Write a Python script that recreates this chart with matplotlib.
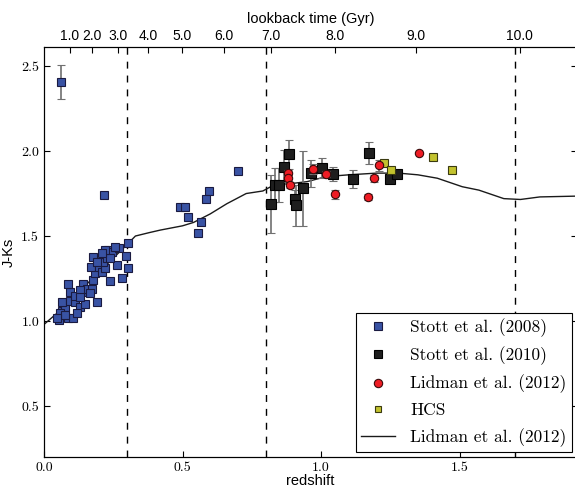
import numpy as np
import matplotlib
matplotlib.use("Agg")
import matplotlib.pyplot as plt
from matplotlib.lines import Line2D

# Stott et al. (2008) - blue squares
s08_z = [0.063, 0.054, 0.087, 0.105, 0.065, 0.076, 0.065, 0.094, 0.112, 0.13, 0.148,
         0.19, 0.094, 0.112, 0.137, 0.087, 0.141, 0.155, 0.173, 0.177, 0.184, 0.17,
         0.177, 0.199, 0.209, 0.22, 0.238, 0.28, 0.213, 0.227, 0.231, 0.245, 0.264,
         0.271, 0.238, 0.296, 0.303, 0.303, 0.256, 0.22, 0.209, 0.191, 0.13, 0.166,
         0.058, 0.076, 0.119, 0.047, 0.13, 0.217,
         0.49, 0.51, 0.52, 0.596, 0.585, 0.567, 0.556, 0.70]
s08_jk = [2.405, 1.006, 1.02, 1.02, 1.06, 1.08, 1.11, 1.12, 1.11, 1.08, 1.10,
          1.11, 1.17, 1.15, 1.17, 1.22, 1.22, 1.19, 1.19, 1.24, 1.28, 1.32,
          1.375, 1.32, 1.29, 1.31, 1.235, 1.255, 1.35, 1.37, 1.42, 1.405, 1.33,
          1.43, 1.37, 1.38, 1.31, 1.46, 1.435, 1.42, 1.40, 1.35, 1.18, 1.165,
          1.05, 1.035, 1.05, 1.02, 1.14, 1.74,
          1.67, 1.67, 1.61, 1.765, 1.72, 1.58, 1.52, 1.88]
s08_err = [0.1] + [0.0] * (len(s08_z) - 1)

# Stott et al. (2010) - black squares
s10_z = [0.82, 0.835, 0.85, 0.885, 0.866, 0.906, 0.91, 0.935, 0.964, 1.003, 1.043,
         1.115, 1.173, 1.25, 1.274]
s10_jk = [1.69, 1.80, 1.80, 1.98, 1.905, 1.72, 1.68, 1.78, 1.87, 1.90, 1.865,
          1.835, 1.99, 1.835, 1.865]
s10_err = [0.17, 0.1, 0.1, 0.085, 0.1, 0.05, 0.12, 0.22, 0.08, 0.06, 0.04,
           0.055, 0.065, 0.0, 0.0]

# Lidman et al. (2012) - red circles
l12_z = [0.881, 0.881, 0.888, 0.971, 1.018, 1.05, 1.17, 1.19, 1.21, 1.354]
l12_jk = [1.87, 1.84, 1.80, 1.895, 1.865, 1.745, 1.73, 1.84, 1.915, 1.99]
l12_err = [0.02, 0.02, 0.02, 0.03, 0.02, 0.025, 0.02, 0.02, 0.03, 0.0]

# HCS - yellow squares
hcs_z = [1.227, 1.253, 1.404, 1.473]
hcs_jk = [1.93, 1.89, 1.965, 1.89]

# Lidman et al. (2012) model curve
mod_z = [0.0, 0.05, 0.1, 0.15, 0.2, 0.25, 0.3, 0.33, 0.38, 0.42, 0.5, 0.54, 0.6,
         0.66, 0.73, 0.79, 0.83, 0.9, 0.95, 1.02, 1.1, 1.2, 1.28, 1.35, 1.42,
         1.51, 1.57, 1.66, 1.72, 1.79, 1.93]
mod_jk = [0.98, 1.05, 1.13, 1.21, 1.29, 1.37, 1.45, 1.50, 1.52, 1.535, 1.56, 1.58,
          1.63, 1.69, 1.75, 1.765, 1.80, 1.81, 1.82, 1.85, 1.86, 1.87, 1.87, 1.86,
          1.84, 1.79, 1.77, 1.72, 1.715, 1.73, 1.735]

vlines_z = [0.3, 0.8, 1.7]

# lookback time ticks (redshift positions)
lb_labels = ["1.0", "2.0", "3.0", "4.0", "5.0", "6.0", "7.0", "8.0", "9.0", "10.0"]
lb_z = [0.094, 0.173, 0.267, 0.375, 0.498, 0.650, 0.820, 1.051, 1.343, 1.718]

SERIF = "cmr10"
SANS = "Liberation Sans"
BLUE, BLACK, RED, YEL = "#3953a4", "#1e1e1e", "#ee1c24", "#c2c22e"

fig = plt.figure(figsize=(5.75, 4.88), dpi=100)
ax = fig.add_axes([44 / 575, 1 - 457 / 488, 533 / 575, 410 / 488])

ecol = "#707070"
ax.errorbar(s08_z, s08_jk, yerr=s08_err, fmt="s", ms=6, mfc=BLUE, mec="#1a1a40",
            mew=0.8, ecolor=ecol, elinewidth=1.2, capsize=3, zorder=3)
ax.errorbar(s10_z, s10_jk, yerr=s10_err, fmt="s", ms=6.5, mfc=BLACK, mec="#000000",
            mew=0.8, ecolor=ecol, elinewidth=1.2, capsize=3, zorder=3)
ax.errorbar(l12_z, l12_jk, yerr=l12_err, fmt="o", ms=6, mfc=RED, mec="#3a0a0a",
            mew=0.8, ecolor=ecol, elinewidth=1.2, capsize=3, zorder=4)
ax.plot(hcs_z, hcs_jk, "s", ms=5.5, mfc=YEL, mec="#3a3a10", mew=0.8, zorder=4)
ax.plot(mod_z, mod_jk, "-", color="#1a1a1a", lw=1.0, zorder=2)

for z in vlines_z:
    ax.axvline(z, color="black", ls=(0, (5, 5)), lw=1.0, zorder=1)

ax.set_xlim(0, 533 / 277)
ax.set_ylim(0.2, 2.612)
ax.set_xticks([0.0, 0.5, 1.0, 1.5])
ax.set_yticks([0.5, 1.0, 1.5, 2.0, 2.5])
ax.set_xticklabels(["0.0", "0.5", "1.0", "1.5"])
ax.set_yticklabels(["0.5", "1.0", "1.5", "2.0", "2.5"])
ax.tick_params(direction="in", length=4, right=True, labelsize=10)
for lab in ax.get_xticklabels() + ax.get_yticklabels():
    lab.set_fontfamily(SERIF)
ax.set_xlabel("redshift", fontsize=10.5, family=SANS, labelpad=0)
ax.set_ylabel("J-Ks", fontsize=10.5, family=SANS, labelpad=4)

top = ax.twiny()
top.set_xlim(ax.get_xlim())
top.set_xticks(lb_z)
top.set_xticklabels(lb_labels, family=SANS)
top.tick_params(direction="in", length=4, labelsize=10, pad=3)
top.set_xlabel("lookback time (Gyr)", fontsize=10.5, family=SANS, labelpad=4)

handles = [
    Line2D([], [], ls="none", marker="s", ms=6, mfc=BLUE, mec="#1a1a40", mew=0.8),
    Line2D([], [], ls="none", marker="s", ms=6, mfc=BLACK, mec="#000000", mew=0.8),
    Line2D([], [], ls="none", marker="o", ms=6, mfc=RED, mec="#3a0a0a", mew=0.8),
    Line2D([], [], ls="none", marker="s", ms=5, mfc=YEL, mec="#3a3a10", mew=0.8),
    Line2D([], [], color="#1a1a1a", lw=1.0),
]
labels = ["Stott et al. (2008)", "Stott et al. (2010)", "Lidman et al. (2012)",
          "HCS", "Lidman et al. (2012)"]
leg = ax.legend(handles, labels, loc="lower right", numpoints=1, fancybox=False,
                edgecolor="black", framealpha=1, prop={"family": SERIF, "size": 12.5},
                borderaxespad=0.3, handlelength=2.0, handletextpad=0.85,
                labelspacing=0.55, borderpad=0.3, bbox_to_anchor=(1.0, 0.0))
leg.get_frame().set_linewidth(0.8)

fig.savefig("out.png", dpi=100)
